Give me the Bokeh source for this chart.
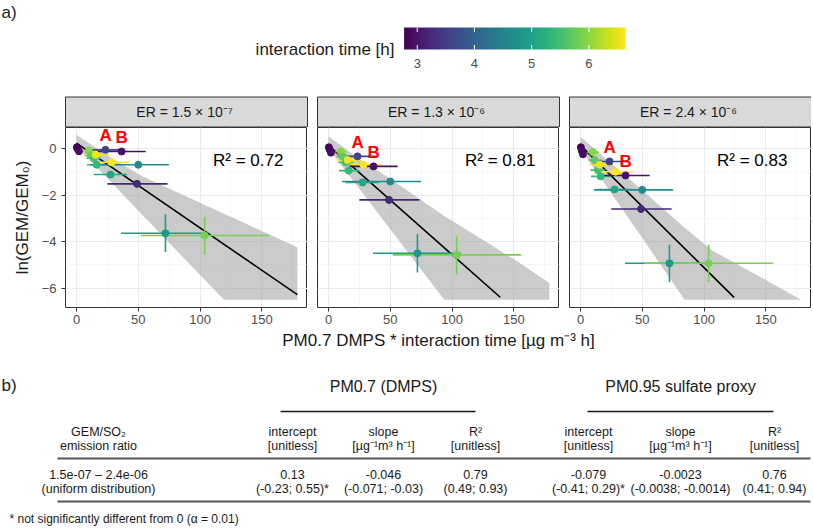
import numpy as np
from bokeh.plotting import figure
from bokeh.layouts import column, row
from bokeh.models import Range1d, FixedTicker, LinearColorMapper, ColumnDataSource
from bokeh.transform import linear_cmap
from bokeh.palettes import Viridis256
from bokeh.core.properties import value
from bokeh.embed import file_html
from bokeh.resources import INLINE

FONT = value("Liberation Sans")

# ---------------- data ----------------
er_labels = ["1.5 × 10⁻⁷", "1.3 × 10⁻⁶", "2.4 × 10⁻⁶"]
r2_values = [0.72, 0.81, 0.83]

# shared x (PM0.7 DMPS * interaction time) and interaction time per point
x_val = [0.3, 1.0, 2.0, 10.0, 11.5, 14.0, 15.5, 16.3, 23.5, 27.6, 28.4, 36.5, 49.0, 50.0, 72.0, 103.7]
x_lo = [0.0, 0.4, 1.2, 5.5, 6.5, 8.0, 7.3, 8.5, 9.0, 14.0, 16.8, 17.0, 25.0, 11.0, 36.0, 52.0]
x_hi = [0.7, 1.6, 2.8, 15.0, 17.5, 20.0, 26.2, 25.0, 38.0, 41.0, 42.4, 56.0, 73.7, 74.8, 107.0, 155.8]
time_h = [2.77, 2.85, 2.9, 5.95, 5.7, 5.5, 6.55, 5.35, 3.55, 5.1, 6.64, 2.95, 3.2, 4.65, 4.85, 5.85]
point_tag = ["", "", "", "", "", "", "", "", "A", "", "", "B", "", "", "", ""]

# ln(GEM/GEM0) per panel
y_p1 = [0.05, -0.02, -0.12, -0.1, -0.3, -0.42, -0.27, -0.7, -0.06, -1.12, -0.59, -0.13, -1.52, -0.7, -3.64, -3.74]
y_p2 = [0.05, -0.05, -0.18, -0.13, -0.35, -0.6, -0.5, -0.95, -0.34, -1.46, -0.7, -0.77, -2.21, -1.42, -4.5, -4.57]
y_p3 = [0.05, -0.1, -0.25, -0.16, -0.5, -0.93, -0.7, -1.2, -0.56, -1.76, -1.0, -1.16, -2.6, -1.78, -4.93, -4.93]
yerr_p1 = [0.05, 0.05, 0.05, 0.08, 0.08, 0.08, 0.1, 0.1, 0.08, 0.15, 0.12, 0.08, 0.15, 0.15, 0.81, 0.81]
yerr_p2 = [0.05, 0.05, 0.05, 0.08, 0.08, 0.08, 0.1, 0.1, 0.08, 0.15, 0.12, 0.08, 0.15, 0.15, 0.83, 0.83]
yerr_p3 = [0.05, 0.05, 0.05, 0.08, 0.08, 0.08, 0.1, 0.1, 0.08, 0.15, 0.12, 0.08, 0.15, 0.15, 0.80, 0.80]

# regression lines
fit_intercept = [0.23, 0.13, 0.13]
fit_slope = [-0.0364, -0.0469, -0.0525]
fit_xmax = [178.8, 139.0, 124.3]

# uncertainty ribbons
rib_x_1 = [0, 25, 52, 100, 119.4, 150, 178.8]
rib_lo_1 = [0.08, -1.28, -2.78, -5.43, -6.5, -6.5, -6.5]
rib_hi_1 = [0.59, -0.3, -1.16, -2.33, -2.8, -3.54, -4.24]
rib_x_2 = [0, 25, 50, 93.7, 100, 150, 178.8]
rib_lo_2 = [0.0, -1.73, -3.47, -6.5, -6.5, -6.5, -6.5]
rib_hi_2 = [0.52, -0.45, -1.3, -2.9, -3.1, -4.75, -5.78]
rib_x_3 = [0, 25, 50, 84.3, 107, 150, 178.6]
rib_lo_3 = [0.0, -1.93, -3.85, -6.5, -6.5, -6.5, -6.5]
rib_hi_3 = [0.5, -0.65, -1.8, -3.4, -4.39, -5.65, -6.5]

x_ticks = [0, 50, 100, 150]
y_ticks = [-6, -4, -2, 0]
cb_ticks = [3, 4, 5, 6]

# table
group_titles = ["PM0.7 (DMPS)", "PM0.95 sulfate proxy"]
col_head1 = ["GEM/SO₂", "intercept", "slope", "R²", "intercept", "slope", "R²"]
col_head2 = ["emission ratio", "[unitless]", "[µg⁻¹m³ h⁻¹]", "[unitless]", "[unitless]", "[µg⁻¹m³ h⁻¹]", "[unitless]"]
row_val = ["1.5e-07 – 2.4e-06", "0.13", "-0.046", "0.79", "-0.079", "-0.0023", "0.76"]
row_ci = ["(uniform distribution)", "(-0.23; 0.55)*", "(-0.071; -0.03)", "(0.49; 0.93)", "(-0.41; 0.29)*", "(-0.0038; -0.0014)", "(0.41; 0.94)"]
footnote = "* not significantly different from 0 (α = 0.01)"
x_title = "PM0.7 DMPS * interaction time [µg m⁻³ h]"

# ---------------- styling / layout constants ----------------
T_LO, T_HI = min(time_h), max(time_h)
mapper = LinearColorMapper(palette=Viridis256, low=T_LO, high=T_HI)
W = 811
FRAME_L = [65, 317, 569]
FRAME_W = 242
HDR_H = 127
PAN_H = 202
TBL_H = 197

def bare(width, height):
    f = figure(width=width, height=height, x_range=Range1d(0, width), y_range=Range1d(height, 0),
               output_backend="svg", toolbar_location=None, x_axis_location=None, y_axis_location=None,
               min_border=0, title=None)
    f.grid.visible = False
    f.outline_line_color = None
    f.background_fill_color = "white"
    f.border_fill_color = "white"
    return f

# ---------------- header: label a), colour bar, strips ----------------
hdr = bare(W, HDR_H)
hdr.text(x=[1], y=[12], text=["a)"], text_font=FONT, text_font_size="17px", text_color="#1a1a1a",
         text_align="left", text_baseline="middle")
CB_X, CB_Y, CB_W, CB_H = 403.6, 27, 221.4, 22
grad = np.linspace(T_LO, T_HI, 256).reshape(1, -1)
hdr.image(image=[grad], x=CB_X, y=CB_Y, dw=CB_W, dh=CB_H, color_mapper=mapper)
tick_px = [CB_X + (t - T_LO) / (T_HI - T_LO) * CB_W for t in cb_ticks]
hdr.segment(x0=tick_px, x1=tick_px, y0=[CB_Y] * 4, y1=[CB_Y + 4.5] * 4, line_color="white", line_width=1)
hdr.segment(x0=tick_px, x1=tick_px, y0=[CB_Y + CB_H - 4.5] * 4, y1=[CB_Y + CB_H] * 4, line_color="white", line_width=1)
hdr.text(x=tick_px, y=[63] * 4, text=[str(t) for t in cb_ticks], text_font=FONT, text_font_size="13px",
         text_color="#4D4D4D", text_align="center", text_baseline="middle")
hdr.text(x=[394], y=[49], text=["interaction time [h]"], text_font=FONT, text_font_size="17px",
         text_color="#1a1a1a", text_align="right", text_baseline="middle")
hdr.quad(left=FRAME_L, right=[l + FRAME_W for l in FRAME_L], top=[96.5] * 3, bottom=[126.5] * 3,
         fill_color="#D9D9D9", line_color="#333333", line_width=1)
hdr.text(x=[l + FRAME_W / 2 for l in FRAME_L], y=[111.5] * 3, text=["ER =  " + e for e in er_labels],
         text_font=FONT, text_font_size="14px", text_color="#1a1a1a", text_align="center", text_baseline="middle")

# ---------------- panels ----------------
ys = [y_p1, y_p2, y_p3]
yerrs = [yerr_p1, yerr_p2, yerr_p3]
ribs = [(rib_x_1, rib_lo_1, rib_hi_1), (rib_x_2, rib_lo_2, rib_hi_2), (rib_x_3, rib_lo_3, rib_hi_3)]
panels = []
for i in range(3):
    left = FRAME_L[0] if i == 0 else FRAME_L[i] - FRAME_L[i - 1] - FRAME_W
    p = figure(width=left + FRAME_W, height=PAN_H, x_range=Range1d(-8.9, 187), y_range=Range1d(-6.83, 0.9),
               output_backend="svg", toolbar_location=None, min_border_left=left, min_border_right=0,
               min_border_top=0, min_border_bottom=PAN_H - 180, title=None)
    p.background_fill_color = "white"
    p.border_fill_color = "white"
    p.outline_line_color = "#333333"
    p.outline_line_width = 1
    xt = FixedTicker(ticks=x_ticks, minor_ticks=[25, 75, 125, 175])
    yt = FixedTicker(ticks=y_ticks, minor_ticks=[-5, -3, -1])
    p.xaxis.ticker = xt
    p.yaxis.ticker = yt
    p.xgrid.ticker = xt
    p.ygrid.ticker = yt
    for g in (p.xgrid, p.ygrid):
        g.grid_line_color = "#EBEBEB"
        g.grid_line_width = 1
        g.minor_grid_line_color = "#F2F2F2"
        g.minor_grid_line_width = 0.6
    for ax in (p.xaxis, p.yaxis):
        ax.axis_line_color = None
        ax.major_tick_line_color = "#333333"
        ax.major_tick_out = 4
        ax.major_tick_in = 0
        ax.minor_tick_line_color = None
        ax.major_label_text_font = "Liberation Sans"
        ax.major_label_text_font_size = "13px"
        ax.major_label_text_color = "#4D4D4D"
        ax.axis_label_text_font = "Liberation Sans"
        ax.axis_label_text_font_style = "normal"
        ax.axis_label_text_color = "#1a1a1a"
        ax.axis_label_text_font_size = "17px"
    p.xaxis.major_label_standoff = 3
    p.yaxis.major_label_standoff = 5
    if i == 0:
        p.yaxis.axis_label = "ln(GEM/GEM₀)"
        p.yaxis.axis_label_standoff = 7
    else:
        p.yaxis.visible = False

    rx, rlo, rhi = ribs[i]
    p.varea(x=rx, y1=rlo, y2=rhi, fill_color="#A0A0A0", fill_alpha=0.55)
    lx = [0, fit_xmax[i]]
    p.line(x=lx, y=[fit_intercept[i] + fit_slope[i] * v for v in lx], line_color="black", line_width=1.6)

    y = ys[i]
    ye = yerrs[i]
    src = ColumnDataSource(dict(x=x_val, xlo=x_lo, xhi=x_hi, y=y,
                                ylo=[a - b for a, b in zip(y, ye)], yhi=[a + b for a, b in zip(y, ye)],
                                t=time_h))
    cmap = linear_cmap("t", Viridis256, T_LO, T_HI)
    p.segment(x0="xlo", x1="xhi", y0="y", y1="y", source=src, line_color=cmap, line_width=1.6)
    p.segment(x0="x", x1="x", y0="ylo", y1="yhi", source=src, line_color=cmap, line_width=1.6)
    p.scatter(x="x", y="y", source=src, size=7, fill_color=cmap, line_color=cmap)

    tx = [x_val[k] for k in range(len(x_val)) if point_tag[k]]
    ty = [y[k] + 0.6 for k in range(len(x_val)) if point_tag[k]]
    tt = [point_tag[k] for k in range(len(x_val)) if point_tag[k]]
    p.text(x=tx, y=ty, text=tt, text_font=FONT, text_font_size="17px", text_font_style="bold",
           text_color="#FF0000", text_align="center", text_baseline="middle")
    p.text(x=[139], y=[-0.52], text=["R² = %.2f" % r2_values[i]], text_font=FONT, text_font_size="17px",
           text_color="black", text_align="center", text_baseline="middle")
    panels.append(p)

# ---------------- x title + table ----------------
tbl = bare(W, TBL_H)
T0 = HDR_H + PAN_H  # screen y of the top of this figure
col_x = [98, 292, 383, 475, 588, 680, 774]
txt = dict(text_font=FONT, text_color="#1a1a1a", text_align="center", text_baseline="middle")
tbl.text(x=[(FRAME_L[0] + FRAME_L[2] + FRAME_W) / 2], y=[340 - T0], text=[x_title], text_font_size="17px", **txt)
tbl.text(x=[1], y=[385 - T0], text=["b)"], text_font=FONT, text_font_size="17px", text_color="#1a1a1a",
         text_align="left", text_baseline="middle")
tbl.text(x=[col_x[2], col_x[5]], y=[386 - T0] * 2, text=group_titles, text_font_size="16px", **txt)
tbl.segment(x0=[280, 587], x1=[475, 773], y0=[411 - T0] * 2, y1=[411 - T0] * 2, line_color="#1a1a1a", line_width=1.3)
tbl.text(x=col_x, y=[431 - T0] * 7, text=col_head1, text_font_size="12.5px", **txt)
tbl.text(x=col_x, y=[445 - T0] * 7, text=col_head2, text_font_size="12.5px", **txt)
tbl.segment(x0=[57, 57], x1=[810, 810], y0=[458 - T0, 501 - T0], y1=[458 - T0, 501 - T0],
            line_color="#555555", line_width=2)
tbl.text(x=col_x, y=[474 - T0] * 7, text=row_val, text_font_size="12.5px", **txt)
tbl.text(x=col_x, y=[488 - T0] * 7, text=row_ci, text_font_size="12.5px", **txt)
tbl.text(x=[9], y=[518 - T0], text=[footnote], text_font=FONT, text_font_size="12px", text_color="#1a1a1a",
         text_align="left", text_baseline="middle")

layout = column(hdr, row(*panels), tbl)
open("out.html", "w").write(file_html(layout, INLINE))
